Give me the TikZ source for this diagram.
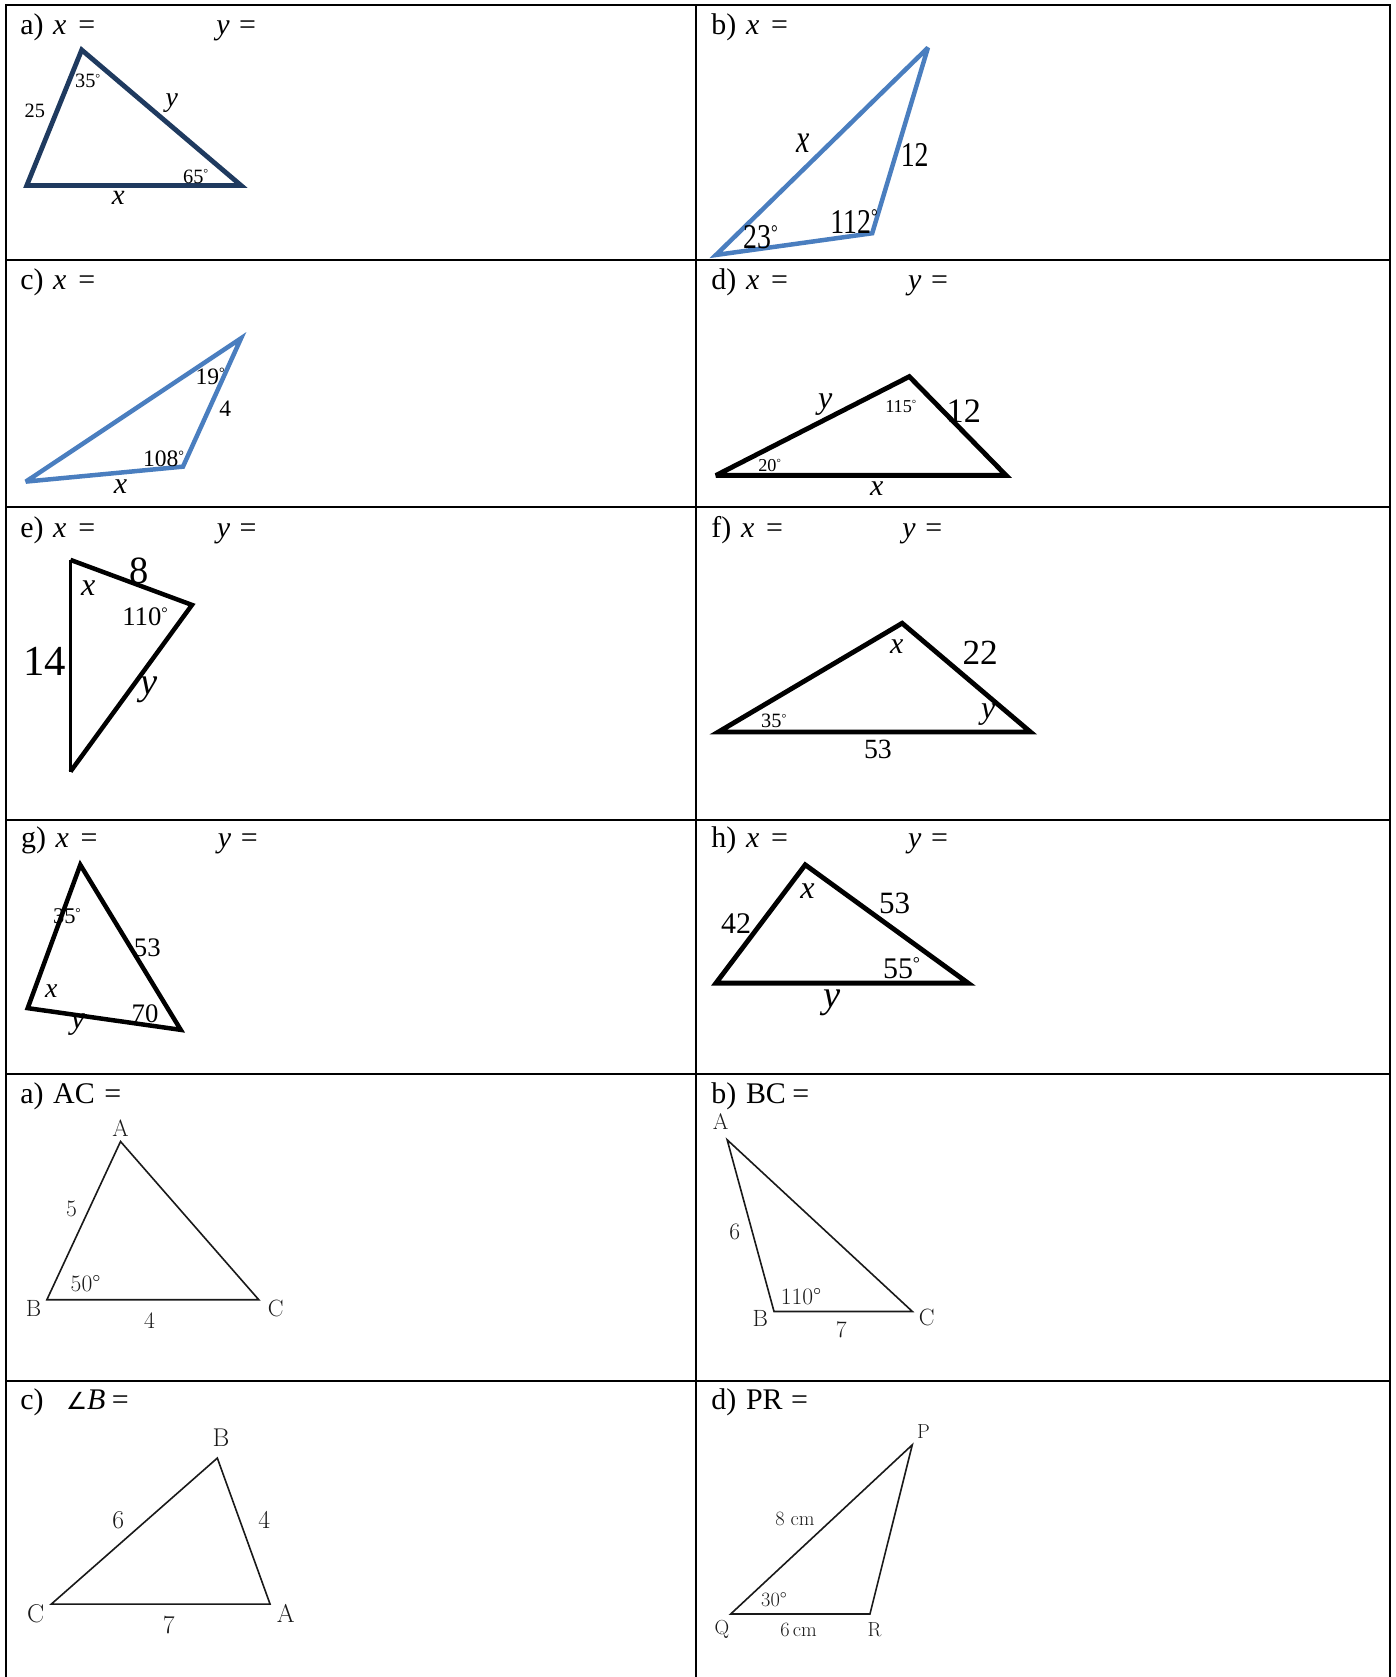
\documentclass[tikz,border=0pt]{standalone}
\usepackage{fontspec}
\usepackage{graphicx}
\newfontfamily\tms{Liberation Serif}
\newfontfamily\djv{DejaVu Sans}
\newcommand\degr{\raisebox{0.27em}{\scalebox{0.6}{°}}}
\definecolor{navy}{HTML}{1F3A5F}
\definecolor{wblue}{HTML}{4A7EBF}
\tikzset{
  hdr/.style={anchor=base west, inner sep=0pt, font=\tms\fontsize{28}{30}\selectfont},
  lbl/.style={inner sep=0pt, font=\tms\fontsize{#1}{#1}\selectfont},
  cml/.style={inner sep=0pt, text=black!90, font=\fontsize{#1}{#1}\selectfont},
  gridline/.style={line width=1.8pt},
  tri/.style={line width=#1, line join=miter, miter limit=4},
  thintri/.style={line width=1.5pt, draw=black!90, line join=miter},
}
\begin{document}
\begin{tikzpicture}[x=1pt,y=-1pt]
\useasboundingbox (0,0) rectangle (1305,1568);
% ---------- table ----------
\coordinate (v1t) at (6,5);  \coordinate (v1b) at (6,1568);
\coordinate (v2t) at (651,5); \coordinate (v2b) at (651,1568);
\coordinate (v3t) at (1300,5); \coordinate (v3b) at (1300,1568);
\draw[gridline] (v1t) -- (v1b);
\draw[gridline] (v2t) -- (v2b);
\draw[gridline] (v3t) -- (v3b);
\foreach \yy/\nm in {5/r0,243/r1,474/r2,767/r3,1004/r4,1291/r5}{
  \coordinate (\nm l) at (5,\yy); \coordinate (\nm r) at (1301,\yy);
  \draw[gridline] (\nm l) -- (\nm r);
}
% ---------- headers ----------
\node[hdr] (ha)  at (18.8,32.7) {a)\hspace{9pt}\textit{x}\hspace{11pt}=};
\node[hdr] (hay) at (202,32.7) {\textit{y}\hspace{9pt}=};
\node[hdr] (hb)  at (665,32.7) {b)\hspace{9pt}\textit{x}\hspace{11pt}=};
\node[hdr] (hc)  at (18.8,271) {c)\hspace{9pt}\textit{x}\hspace{11pt}=};
\node[hdr] (hd)  at (665,271) {d)\hspace{9pt}\textit{x}\hspace{11pt}=};
\node[hdr] (hdy) at (849,271) {\textit{y}\hspace{9pt}=};
\node[hdr] (he)  at (18.8,503) {e)\hspace{9pt}\textit{x}\hspace{11pt}=};
\node[hdr] (hey) at (202.5,503) {\textit{y}\hspace{9pt}=};
\node[hdr] (hf)  at (665,503) {f)\hspace{9pt}\textit{x}\hspace{11pt}=};
\node[hdr] (hfy) at (843.5,503) {\textit{y}\hspace{9pt}=};
\node[hdr] (hg)  at (19.5,792) {g)\hspace{9pt}\textit{x}\hspace{11pt}=};
\node[hdr] (hgy) at (203.5,792) {\textit{y}\hspace{9pt}=};
\node[hdr] (hh)  at (665,792) {h)\hspace{9pt}\textit{x}\hspace{11pt}=};
\node[hdr] (hhy) at (849,792) {\textit{y}\hspace{9pt}=};
\node[hdr] (ha2) at (18.8,1031.4) {a)\hspace{9pt}AC\hspace{9pt}=};
\node[hdr] (hb2) at (665,1031.4) {b)\hspace{9pt}BC\hspace{6pt}=};
\node[hdr] (hc2) at (18.8,1318) {c)\hspace{21pt}{\djv\fontsize{22}{22}\selectfont ∠}\textit{B}\hspace{6pt}=};
\node[hdr] (hd2) at (665,1318) {d)\hspace{9pt}PR\hspace{8pt}=};
% ---------- a) ----------
\coordinate (aA) at (76.4,46.7); \coordinate (aB) at (25,173.5); \coordinate (aC) at (225.5,173.5);
\draw[tri=4.5pt, draw=navy] (aA) -- (aB) -- (aC) -- cycle;
\node[lbl=19] (a35) at (82,76) {35\degr};
\node[lbl=19] (a25) at (32.5,104) {25};
\node[lbl=26] (ay)  at (160.7,96.6) {\textit{y}};
\node[lbl=19] (a65) at (183,165) {65\degr};
\node[lbl=27] (ax)  at (110.6,185.4) {\textit{x}};
% ---------- b) ----------
\coordinate (bT) at (867.6,44.6); \coordinate (bL) at (669.4,238.4); \coordinate (bM) at (815.5,218.1);
\draw[tri=4.2pt, draw=wblue] (bT) -- (bL) -- (bM) -- cycle;
\node[lbl=28] (bx)   at (750.8,134) {\scalebox{1}[1.35]{\textit{x}}};
\node[lbl=26] (b12)  at (855.2,144.9) {\scalebox{1}[1.25]{12}};
\node[lbl=26] (b112) at (798.5,207.2) {\scalebox{1}[1.25]{112\degr}};
\node[lbl=26] (b23)  at (711,221.9) {\scalebox{1}[1.25]{23\degr}};
% ---------- c) ----------
\coordinate (cT) at (225.4,316.3); \coordinate (cL) at (24.2,450.3); \coordinate (cM) at (171.1,436.3);
\draw[tri=4.2pt, draw=wblue] (cT) -- (cL) -- (cM) -- cycle;
\node[lbl=22] (c19)  at (196.5,352.1) {19\degr};
\node[lbl=22] (c4)   at (210.7,382.4) {4};
\node[lbl=22] (c108) at (153,429.1) {108\degr};
\node[lbl=28] (cx)   at (112.7,455) {\textit{x}};
% ---------- d) ----------
\coordinate (dA) at (850.2,352.1); \coordinate (dL) at (669.4,444.5); \coordinate (dR) at (940.7,444.5);
\draw[tri=4.5pt] (dA) -- (dL) -- (dR) -- cycle;
\node[lbl=30] (dy)   at (771.7,378.6) {\textit{y}};
\node[lbl=17] (d115) at (842.2,380.2) {115\degr};
\node[lbl=32] (d12)  at (901.1,384.8) {12};
\node[lbl=17] (d20)  at (719.6,435.3) {20\degr};
\node[lbl=28] (dx)   at (819.7,456.5) {\textit{x}};
% ---------- e) ----------
\coordinate (eT) at (65.9,523.5); \coordinate (eR) at (179.5,565.6); \coordinate (eB) at (65.9,721.4);
\draw[tri=4.2pt] (eT) -- (eR) -- (eB);
\draw[line width=3pt] (eB) -- (eT);
\node[lbl=36] (e8)   at (130.2,534) {8};
\node[lbl=30] (ex)   at (82.6,550) {\textit{x}};
\node[lbl=25] (e110) at (135.6,576.5) {110\degr};
\node[lbl=40] (e14)  at (41.7,618.6) {14};
\node[lbl=36] (ey)   at (139.8,645) {\textit{y}};
% ---------- f) ----------
\coordinate (fA) at (843.5,582.7); \coordinate (fL) at (671.5,684.5); \coordinate (fR) at (963.6,684.5);
\draw[tri=4.5pt] (fA) -- (fL) -- (fR) -- cycle;
\node[lbl=28] (fx)  at (838.4,604.5) {\textit{x}};
\node[lbl=33] (f22) at (916.5,610.8) {22};
\node[lbl=30] (fy)  at (924,668) {\textit{y}};
\node[lbl=19] (f35) at (723.5,674) {35\degr};
\node[lbl=26] (f53) at (820.9,701.1) {53};
% ---------- g) ----------
\coordinate (gA) at (75.1,808.6); \coordinate (gL) at (25.9,942.6); \coordinate (gR) at (169,962.9);
\draw[tri=4.2pt] (gA) -- (gL) -- (gR) -- cycle;
\node[lbl=21] (g35) at (62.6,857) {35\degr};
\node[lbl=25] (g53) at (137.7,886.5) {53};
\node[lbl=26] (gx)  at (48,927) {\textit{x}};
\node[lbl=25] (g70) at (135.6,948.2) {70};
\node[lbl=30] (gy)  at (73,958.2) {\textit{y}};
% ---------- h) ----------
\coordinate (hA) at (752.9,808.6); \coordinate (hL) at (669.4,919.2); \coordinate (hR) at (905.2,919.2);
\draw[tri=4.5pt] (hA) -- (hL) -- (hR) -- cycle;
\node[lbl=30] (hx)  at (755,833.6) {\textit{x}};
\node[lbl=29] (h53) at (836.4,844.5) {53};
\node[lbl=28] (h42) at (688.2,863.2) {42};
\node[lbl=28] (h55) at (843,905.2) {55\degr};
\node[lbl=36] (hy)  at (778,938) {\textit{y}};
% ---------- a2) ----------
\coordinate (pA) at (112.7,1067.3); \coordinate (pB) at (43.8,1215.3); \coordinate (pC) at (242,1215.3);
\draw[thintri] (pA) -- (pB) -- (pC) -- cycle;
\node[cml=22] (pAl) at (112.7,1054.5) {A};
\node[cml=22] (pBl) at (31.3,1223) {B};
\node[cml=22] (pCl) at (257.9,1223) {C};
\node[cml=22] (p5)  at (66.8,1130) {5};
\node[cml=22] (p50) at (80,1200) {50°};
\node[cml=22] (p4)  at (139.8,1235) {4};
% ---------- b2) ----------
\coordinate (qA) at (679.9,1065.7); \coordinate (qB) at (723.7,1226.2); \coordinate (qC) at (853,1226.2);
\draw[thintri] (qA) -- (qB) -- (qC) -- cycle;
\node[cml=21] (qAl) at (673.7,1049) {A};
\node[cml=22] (q6)  at (687,1152) {6};
\node[cml=22] (q110) at (749,1212) {110°};
\node[cml=22] (qBl) at (711,1233) {B};
\node[cml=22] (q7)  at (786.5,1243) {7};
\node[cml=22] (qCl) at (866.5,1232) {C};
% ---------- c2) ----------
\coordinate (sB) at (203.2,1363.3); \coordinate (sC) at (48,1499.8); \coordinate (sA) at (252.5,1499.8);
\draw[thintri] (sB) -- (sC) -- (sA) -- cycle;
\node[cml=24] (sBl) at (206.6,1344) {B};
\node[cml=24] (s6)  at (110.6,1421.5) {6};
\node[cml=24] (s4)  at (247.1,1421.5) {4};
\node[cml=24] (sCl) at (33.4,1508.5) {C};
\node[cml=24] (s7)  at (157.8,1519.5) {7};
\node[cml=24] (sAl) at (267.1,1508.5) {A};
% ---------- d2) ----------
\coordinate (tP) at (853,1350.9); \coordinate (tQ) at (683.2,1509.1); \coordinate (tR) at (813.4,1509.1);
\draw[thintri] (tP) -- (tQ) -- (tR) -- cycle;
\node[cml=19] (tPl) at (863.5,1338.4) {P};
\node[cml=19] (t8)  at (743.3,1420) {8 cm};
\node[cml=19] (t30) at (723.7,1495.7) {30°};
\node[cml=19] (tQl) at (674.9,1523.8) {Q};
\node[cml=19] (t6)  at (746.7,1523.8) {6\,cm};
\node[cml=19] (tRl) at (817.6,1523.8) {R};
\end{tikzpicture}
\end{document}
